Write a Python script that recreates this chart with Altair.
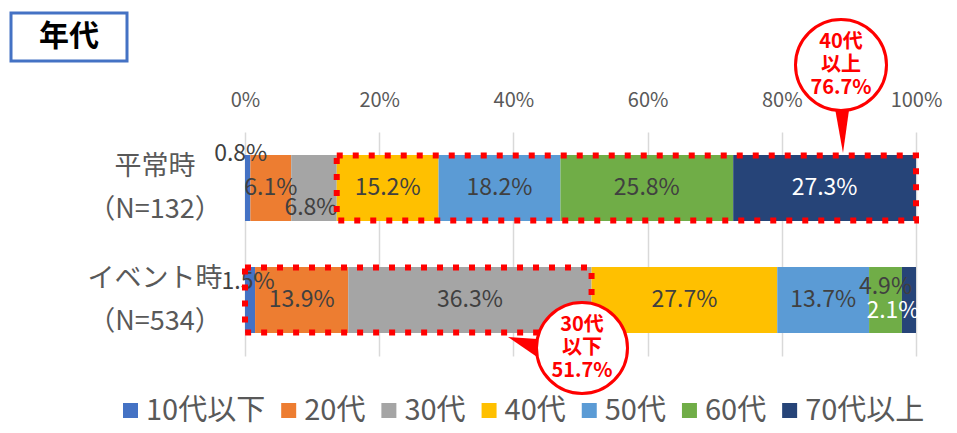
import altair as alt
import pandas as pd

FONT = "Noto Sans CJK JP"

CATEGORIES = ["平常時", "イベント時"]
CAT_LABELS = ["平常時\n（N=132）", "イベント時\n（N=534）"]
AGES = ["10代以下", "20代", "30代", "40代", "50代", "60代", "70代以上"]
COLORS = ["#4472C4", "#ED7D31", "#A5A5A5", "#FFC000", "#5B9BD5", "#70AD47", "#264478"]
NORMAL = [0.8, 6.1, 6.8, 15.2, 18.2, 25.8, 27.3]
EVENT = [1.5, 13.9, 36.3, 27.7, 13.7, 4.9, 2.1]
HIGHLIGHT_NORMAL = ["40代", "50代", "60代", "70代以上"]
HIGHLIGHT_EVENT = ["10代以下", "20代", "30代"]
CALLOUT_TEXTS = ["40代\n以上\n76.7%", "30代\n以下\n51.7%"]
TITLE = "年代"
TICKS = [0, 0.2, 0.4, 0.6, 0.8, 1.0]

W, H = 671, 224

rows = []
for cat, vals, hl in zip(CATEGORIES, [NORMAL, EVENT], [HIGHLIGHT_NORMAL, HIGHLIGHT_EVENT]):
    for i, (age, v) in enumerate(zip(AGES, vals)):
        rows.append({"cat": cat, "age": age, "order": i, "value": v, "hl": age in hl})
df = pd.DataFrame(rows)
df_cat = pd.DataFrame({"cat": CATEGORIES, "catlabel": CAT_LABELS})

# manual legend layout (estimated text widths)
LEG_FS = 29
def est_width(s, fs):
    return sum(0.555 * fs if ord(ch) < 128 else fs for ch in s)

leg_rows = []
px = -122.0
for age in AGES:
    leg_rows.append({"age": age, "sx": (px + 7.5) / W, "tx": (px + 23) / W})
    px += 23 + est_width(age, LEG_FS) + 16
df_leg = pd.DataFrame(leg_rows)

Y = alt.Y("cat:N", sort=CATEGORIES, scale=alt.Scale(paddingInner=0, paddingOuter=0), axis=None)
COLOR = alt.Color("age:N", scale=alt.Scale(domain=AGES, range=COLORS), legend=None)

base = alt.Chart(df).transform_stack(
    stack="value", as_=["x0", "x1"], groupby=["cat"],
    sort=[alt.SortField("order")], offset="normalize"
)

bars = base.mark_bar(size=66).encode(
    x=alt.X("x0:Q", scale=alt.Scale(domain=[0, 1]),
            axis=alt.Axis(orient="top", format="%", values=TICKS, grid=True, domain=False,
                          ticks=False, labelFontSize=20, labelColor="#595959", labelFont=FONT,
                          labelPadding=22, labelFlush=False, gridColor="#D9D9D9",
                          gridWidth=1.5, title=None)),
    x2="x1:Q",
    y=Y,
    color=COLOR,
    order=alt.Order("order:Q"),
)

lab_base = base.transform_calculate(
    mid="(datum.x0 + datum.x1) / 2",
    label="format(datum.value, '.1f') + '%'"
)

text_color = alt.condition(alt.datum.age == "70代以上", alt.value("white"), alt.value("#404040"))

specials = [
    ("平常時", "10代以下", -7, -34),
    ("平常時", "30代", -3, 20),
    ("イベント時", "10代以下", -2, -18),
    ("イベント時", "60代", 0, -13),
    ("イベント時", "70代以上", -16, 11),
]

special_expr = " || ".join(
    f"(datum.cat == '{c}' && datum.age == '{a}')" for c, a, _, _ in specials
)

labels = lab_base.transform_filter(f"!({special_expr})").mark_text(
    fontSize=23, font=FONT, align="center", baseline="middle"
).encode(x="mid:Q", y=Y, text="label:N", color=text_color)

special_layers = []
for c, a, dx, dy in specials:
    special_layers.append(
        lab_base.transform_filter(f"datum.cat == '{c}' && datum.age == '{a}'").mark_text(
            fontSize=23, font=FONT, align="center", baseline="middle", dx=dx, dy=dy
        ).encode(x="mid:Q", y=Y, text="label:N", color=text_color)
    )

boxes = base.transform_filter("datum.hl").transform_aggregate(
    b0="min(x0)", b1="max(x1)", groupby=["cat"]
).mark_bar(size=65, fill="white", fillOpacity=0, stroke="#FF0000",
           strokeWidth=6, strokeDash=[6, 10]).encode(x="b0:Q", x2="b1:Q", y=Y)

ylabels = alt.Chart(df_cat).mark_text(
    align="center", baseline="middle", lineBreak="\n", fontSize=27, lineHeight=43,
    color="#595959", font=FONT, dy=-21.5
).encode(y=Y, text="catlabel:N", x=alt.value(-90))

# legend (manual)
leg_sq = alt.Chart(df_leg).mark_square(size=225, opacity=1, strokeWidth=0).encode(
    x=alt.X("sx:Q"), y=alt.value(278.5), color=COLOR
)
leg_tx = alt.Chart(df_leg).mark_text(
    align="left", baseline="middle", fontSize=LEG_FS, font=FONT, color="#595959"
).encode(x=alt.X("tx:Q"), y=alt.value(279), text="age:N")

# title box
df_title = pd.DataFrame({"t": [TITLE]})
title_rect = alt.Chart(df_title).mark_rect(fill="white", stroke="#4472C4", strokeWidth=3).encode(
    x=alt.value(-234), x2=alt.value(-118), y=alt.value(-119), y2=alt.value(-71)
)
title_text = alt.Chart(df_title).mark_text(
    fontSize=30, fontWeight="bold", font=FONT, color="black", align="center", baseline="middle"
).encode(x=alt.value(-176), y=alt.value(-95), text="t:N")

# callouts
df_c1 = pd.DataFrame({"t": [CALLOUT_TEXTS[0]]})
df_c2 = pd.DataFrame({"t": [CALLOUT_TEXTS[1]]})

def callout(dfc, cx, cy, pointer_path):
    ptr = alt.Chart(dfc).mark_point(shape=pointer_path, size=10000, filled=True,
                                    fill="#FF0000", strokeWidth=0, opacity=1).encode(
        x=alt.value(cx), y=alt.value(cy))
    circ = alt.Chart(dfc).mark_point(shape="circle", size=8281, filled=True, fill="white",
                                     stroke="#FF0000", strokeWidth=3, opacity=1).encode(
        x=alt.value(cx), y=alt.value(cy))
    txt = alt.Chart(dfc).mark_text(color="#FF0000", fontWeight="bold", fontSize=20,
                                   lineHeight=23, lineBreak="\n", align="center",
                                   baseline="middle", font=FONT, dy=-23).encode(
        x=alt.value(cx), y=alt.value(cy), text="t:N")
    return [ptr, circ, txt]

c1 = callout(df_c1, 596, -67, "M -0.14 0.76 L 0.04 1.76 L 0.18 0.76 Z")
c2 = callout(df_c2, 337, 216, "M -0.6 -0.16 L -1.48 -0.22 L -0.52 0.44 Z")

chart = alt.layer(
    bars, labels, *special_layers, boxes, ylabels, leg_sq, leg_tx,
    title_rect, title_text, *c1, *c2
).properties(
    width=W, height=H,
    autosize=alt.AutoSizeParams(type="none"),
    padding={"left": 237, "top": 124, "right": 30, "bottom": 74},
).configure_view(stroke=None)

chart.save("out.html", embed_options={"renderer": "svg", "actions": False})
